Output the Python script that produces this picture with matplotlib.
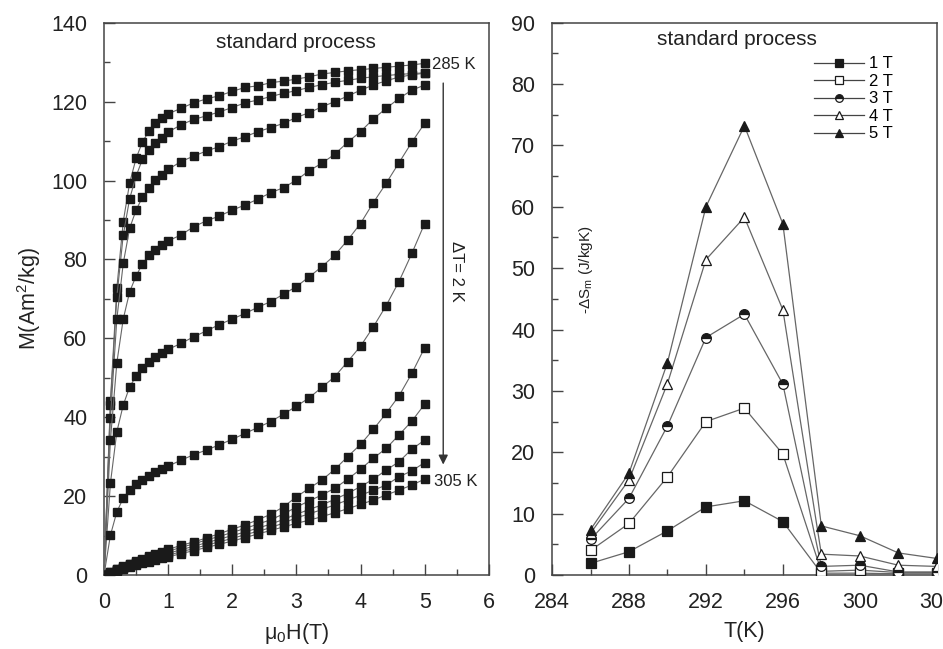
import matplotlib
matplotlib.use("Agg")
import matplotlib.pyplot as plt
from matplotlib.ticker import MultipleLocator
from matplotlib.lines import Line2D

plt.rcParams['font.family'] = ['Liberation Sans', 'DejaVu Sans']
plt.rcParams['mathtext.fontset'] = 'custom'
plt.rcParams['mathtext.rm'] = 'Liberation Sans'
plt.rcParams['mathtext.it'] = 'Liberation Sans:italic'

# magnetisation isotherms, 285 K .. 305 K in 2 K steps
field = [0, 0.1, 0.2, 0.3, 0.4, 0.5, 0.6, 0.7, 0.8, 0.9, 1.0,
         1.2, 1.4, 1.6, 1.8, 2.0, 2.2, 2.4, 2.6, 2.8, 3.0,
         3.2, 3.4, 3.6, 3.8, 4.0, 4.2, 4.4, 4.6, 4.8, 5.0]

m285 = [0, 44.0, 72.7, 89.6, 99.4, 105.6, 109.8, 112.5, 114.5, 115.8, 116.9,
        118.3, 119.7, 120.7, 121.5, 122.6, 123.6, 124.0, 124.8, 125.2, 125.7,
        126.3, 127.0, 127.4, 127.8, 128.1, 128.4, 128.7, 129.0, 129.3, 129.7]
m287 = [0, 43.0, 70.5, 86.2, 95.4, 101.1, 105.4, 107.7, 109.5, 110.9, 112.3,
        114.1, 115.5, 116.4, 117.4, 118.5, 119.7, 120.4, 121.3, 122.1, 122.8,
        123.6, 124.3, 124.9, 125.4, 125.9, 126.3, 126.6, 126.9, 127.1, 127.3]
m289 = [0, 39.8, 64.9, 79.0, 87.9, 92.5, 95.8, 98.0, 100.1, 101.4, 102.8,
        104.8, 106.2, 107.5, 108.6, 110.0, 111.1, 112.4, 113.4, 114.5, 116.0,
        117.2, 118.7, 120.0, 121.4, 122.9, 124.2, 125.3, 126.2, 126.8, 127.2]
m291 = [0, 34.2, 53.8, 64.9, 71.8, 75.8, 78.9, 81.1, 82.5, 83.6, 84.7,
        86.2, 88.3, 89.8, 91.0, 92.5, 93.8, 95.3, 96.9, 98.2, 100.1,
        102.5, 104.4, 106.7, 109.7, 112.4, 115.6, 118.3, 120.8, 122.9, 124.2]
m293 = [0, 23.3, 36.3, 43.1, 47.7, 50.4, 52.4, 54.1, 55.3, 56.3, 57.2,
        58.7, 60.4, 61.9, 63.5, 64.9, 66.3, 67.9, 69.3, 71.2, 73.1,
        75.6, 78.2, 81.1, 84.9, 89.1, 94.4, 99.3, 104.5, 109.7, 114.5]
m295 = [0, 10.1, 16.0, 19.5, 21.6, 23.1, 24.2, 25.2, 26.1, 26.8, 27.6,
        29.1, 30.5, 31.7, 33.0, 34.4, 35.9, 37.4, 38.9, 40.8, 42.8,
        44.9, 47.6, 50.3, 54.1, 58.0, 62.9, 68.3, 74.4, 81.5, 89.1]
m297 = [0, 0.8, 1.5, 2.2, 2.9, 3.5, 4.1, 4.7, 5.3, 5.9, 6.5,
        7.5, 8.4, 9.4, 10.5, 11.6, 12.7, 14.0, 15.4, 17.3, 19.8,
        22.0, 24.1, 26.8, 30.0, 33.1, 36.9, 41.0, 45.4, 51.1, 57.6]
m299 = [0, 0.7, 1.4, 2.1, 2.7, 3.3, 3.9, 4.5, 5.0, 5.5, 6.0,
        7.0, 7.9, 8.9, 9.8, 10.8, 11.8, 12.9, 14.0, 15.5, 17.2,
        18.8, 20.3, 22.0, 24.3, 26.8, 29.6, 32.1, 35.5, 39.0, 43.3]
m301 = [0, 0.6, 1.3, 1.9, 2.5, 3.1, 3.6, 4.1, 4.6, 5.1, 5.5,
        6.4, 7.3, 8.2, 9.1, 10.0, 10.9, 11.9, 12.9, 14.1, 15.4,
        16.6, 17.8, 19.2, 20.7, 22.4, 24.3, 26.6, 28.7, 31.9, 34.2]
m303 = [0, 0.6, 1.2, 1.8, 2.3, 2.8, 3.3, 3.8, 4.2, 4.6, 5.0,
        5.9, 6.7, 7.6, 8.4, 9.3, 10.2, 11.1, 12.0, 13.2, 14.5,
        15.5, 16.6, 17.8, 19.0, 20.2, 21.5, 22.8, 24.9, 26.4, 28.5]
m305 = [0, 0.5, 1.1, 1.6, 2.1, 2.6, 3.0, 3.4, 3.8, 4.2, 4.6,
        5.4, 6.2, 7.0, 7.8, 8.6, 9.5, 10.4, 11.3, 12.2, 13.1,
        13.9, 14.8, 15.8, 16.8, 17.9, 19.0, 20.3, 21.5, 22.8, 24.3]
isotherms = [m285, m287, m289, m291, m293, m295, m297, m299, m301, m303, m305]

# magnetic entropy change vs temperature
temps = [286, 288, 290, 292, 294, 296, 298, 300, 302, 304]
ds_1T = [1.9, 3.8, 7.2, 11.1, 12.1, 8.7, 0.3, 0.3, 0.2, 0.2]
ds_2T = [4.0, 8.4, 16.0, 25.0, 27.2, 19.7, 0.6, 0.8, 0.4, 0.4]
ds_3T = [5.8, 12.5, 24.3, 38.7, 42.5, 31.1, 1.4, 1.6, 0.5, 0.5]
ds_4T = [6.8, 15.5, 31.2, 51.4, 58.3, 43.2, 3.4, 3.1, 1.6, 1.4]
ds_5T = [7.4, 16.6, 34.6, 60.0, 73.2, 57.2, 8.0, 6.4, 3.6, 2.7]
field_labels = ['1 T', '2 T', '3 T', '4 T', '5 T']

ink = '#222222'
line_grey = '#666666'

fig = plt.figure(figsize=(9.43, 6.49), dpi=100)
ax1 = fig.add_axes([0.1103, 0.114, 0.408, 0.851])
ax2 = fig.add_axes([0.5854, 0.114, 0.408, 0.851])

for m in isotherms:
    ax1.plot(field, m, color=line_grey, lw=0.8, marker='s', ms=6,
             mfc='#1a1a1a', mec='#1a1a1a', zorder=3)

ax1.set_xlim(0, 6)
ax1.set_ylim(0, 140)
ax1.xaxis.set_major_locator(MultipleLocator(1))
ax1.xaxis.set_minor_locator(MultipleLocator(0.5))
ax1.yaxis.set_major_locator(MultipleLocator(20))
ax1.yaxis.set_minor_locator(MultipleLocator(10))
ax1.set_xlabel(r'μ$_0$H(T)', fontsize=15.5, color=ink, labelpad=6)
ax1.set_ylabel(r'M(Am$^2$/kg)', fontsize=15.5, color=ink, labelpad=6)
ax1.text(3.0, 135, 'standard process', fontsize=15, color=ink,
         ha='center', va='center')
ax1.text(5.12, 129.3, '285 K', fontsize=12, color=ink, va='center')
ax1.text(5.15, 23.7, '305 K', fontsize=12, color=ink, va='center')
ax1.annotate('', xy=(5.29, 28.0), xytext=(5.29, 124.7),
             arrowprops=dict(arrowstyle='-|>', color='#333333', lw=1.0,
                             mutation_scale=14, shrinkA=0, shrinkB=0))
ax1.text(5.5, 77, 'ΔT= 2 K', fontsize=12, color=ink, rotation=270,
         ha='center', va='center')

styles = [dict(marker='s', mfc='#1a1a1a'),
          dict(marker='s', mfc='white'),
          dict(marker='o', mfc='#1a1a1a', fillstyle='top', markerfacecoloralt='white'),
          dict(marker='^', mfc='white'),
          dict(marker='^', mfc='#1a1a1a')]
series = [ds_1T, ds_2T, ds_3T, ds_4T, ds_5T]
handles = []
for ds, st, lab in zip(series, styles, field_labels):
    ax2.plot(temps, ds, color=line_grey, lw=0.9, ms=7, mec='#1a1a1a',
             mew=0.9, zorder=3, **st)
    handles.append(Line2D([], [], color='#444444', lw=0.9, ms=5.5,
                          mec='#1a1a1a', mew=0.9, label=lab, **st))

ax2.set_xlim(284, 304)
ax2.set_ylim(0, 90)
ax2.xaxis.set_major_locator(MultipleLocator(4))
ax2.xaxis.set_minor_locator(MultipleLocator(2))
ax2.yaxis.set_major_locator(MultipleLocator(10))
ax2.yaxis.set_minor_locator(MultipleLocator(5))
ax2.set_xlabel('T(K)', fontsize=15.5, color=ink, labelpad=6)
ax2.text(293.6, 87.3, 'standard process', fontsize=15, color=ink,
         ha='center', va='center')
ax2.text(285.75, 49.7, r'-ΔS$_\mathrm{m}$ (J/kgK)', fontsize=11, color=ink,
         rotation=90, ha='center', va='center')
ax2.legend(handles=handles, loc='upper right', bbox_to_anchor=(0.915, 0.96),
           frameon=False, fontsize=12, numpoints=1, handlelength=3.0,
           handletextpad=0.3, labelspacing=0.15, borderpad=0.2)

for ax in (ax1, ax2):
    for side in ('top', 'right', 'left', 'bottom'):
        ax.spines[side].set_color('#444444')
        ax.spines[side].set_linewidth(1.1)
    ax.tick_params(which='both', direction='in', top=False, right=False,
                   colors='#444444', labelcolor=ink, labelsize=15.5)
    ax.tick_params(which='major', length=8, width=1.0, pad=12)
    ax.tick_params(which='minor', length=4.5, width=1.0)

fig.savefig('out.png', dpi=100)
